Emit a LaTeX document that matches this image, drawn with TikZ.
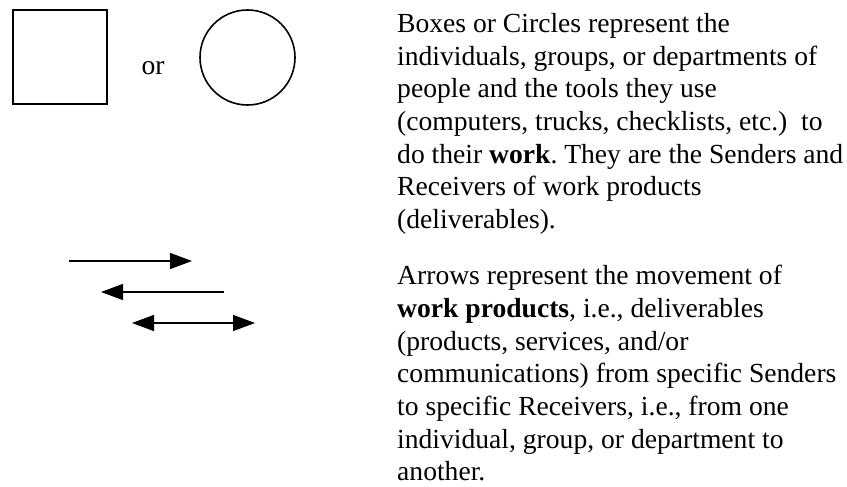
\documentclass[tikz,border=0pt]{standalone}
\usepackage{fontspec}
\setmainfont{Liberation Serif}
\usetikzlibrary{arrows.meta}
\frenchspacing

\tikzstyle{line} = [draw, {Triangle[length=22pt, width=16pt]}-{Triangle[length=22pt, width=16pt]}, line width=1.4pt]
\tikzstyle{lineto} = [draw, -{Triangle[length=22pt, width=16pt]}, line width=1.4pt]
\tikzstyle{box} = [draw, rectangle, line width=1.6pt, minimum size=94pt, inner sep=0pt]
\tikzstyle{roda} = [draw, circle, line width=1.6pt, minimum size=95pt, inner sep=0pt]
\tikzstyle{texto} = [anchor=north west, align=left, inner sep=0pt, font=\fontsize{27.6}{32.7}\selectfont]

\begin{document}
\begin{tikzpicture}[x=1pt, y=1pt]
\useasboundingbox (0,0) rectangle (847,-487);
% simbolos
\node [box] (caixa) at (60,-57) {};
\node [texto, anchor=base] (ou) at (153,-75) {or};
\node [roda] (circ) at (247.5,-57.5) {};
% setas
\coordinate (s1a) at (69,-261);
\coordinate (s1b) at (192,-261);
\coordinate (s2a) at (224,-292);
\coordinate (s2b) at (101,-292);
\coordinate (s3a) at (132,-323);
\coordinate (s3b) at (255,-323);
\path [lineto] (s1a) -- (s1b);
\path [lineto] (s2a) -- (s2b);
\path [line] (s3a) -- (s3b);
% textos
\node [texto] (txtbox) at (397,-13.1) {Boxes or Circles represent the\\
individuals, groups, or departments of\\
people and the tools they use\\
(computers, trucks, checklists, etc.)\ \ to\\
do their \textbf{work}. They are the Senders and\\
Receivers of work products\\
(deliverables).};
\node [texto] (txtseta) at (397,-265.1) {Arrows represent the movement of\\
\textbf{work products}, i.e., deliverables\\
(products, services, and/or\\
communications) from specific Senders\\
to specific Receivers, i.e., from one\\
individual, group, or department to\\
another.};
\end{tikzpicture}
\end{document}
